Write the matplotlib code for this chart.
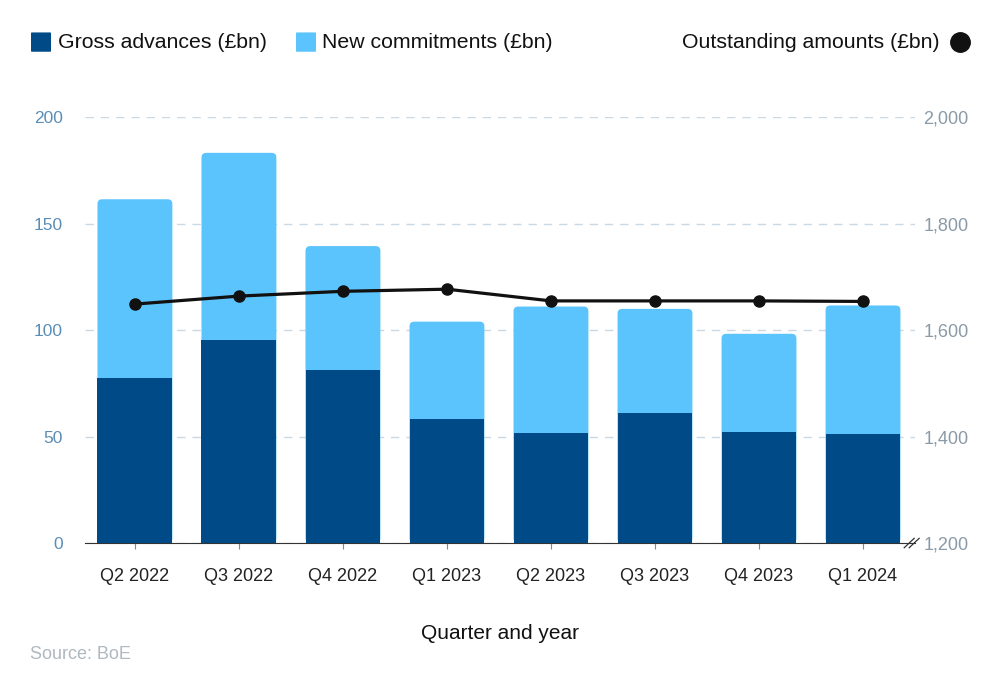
import numpy as np
import matplotlib.pyplot as plt
from matplotlib.patches import FancyBboxPatch

plt.rcParams['font.family'] = ['Liberation Sans', 'DejaVu Sans']

## Data
quarters = ["Q2 2022", "Q3 2022", "Q4 2022", "Q1 2023", "Q2 2023", "Q3 2023", "Q4 2023", "Q1 2024"]
gross_advances = [77.5, 95.5, 81.5, 58.5, 51.8, 61.0, 52.3, 51.3]
new_commitments = [84.0, 87.8, 58.0, 45.5, 59.3, 49.0, 46.0, 60.3]
outstanding = [1649, 1664, 1673, 1677, 1655, 1655, 1655, 1654]

dark = "#014a88"
light = "#5bc4fd"
width = 0.72

fig = plt.figure(figsize=(10, 6.9), dpi=100)
ax = fig.add_axes([0.085, 0.213, 0.83, 0.617])
ax2 = ax.twinx()

x = np.arange(len(quarters))
ax.set_xlim(-0.48, 7.5)
ax.set_ylim(0, 200)
ax2.set_ylim(1200, 2000)

## radius correction so corners look round in pixels
bbox = ax.get_position()
px_w = bbox.width * 1000 / (7.98)
px_h = bbox.height * 690 / 200.0
aspect = px_w / px_h

tops = np.array(gross_advances) + np.array(new_commitments)
r = 0.045
for i in range(len(x)):
    p = FancyBboxPatch((x[i] - width / 2 + r, r * aspect), width - 2 * r, tops[i] - 2 * r * aspect,
                       boxstyle="round,pad=%g" % r, mutation_aspect=aspect,
                       fc=light, ec="none", zorder=2)
    ax.add_patch(p)
ax.bar(x, gross_advances, width=width, color=dark, zorder=3)

ax.set_yticks([0, 50, 100, 150, 200])
ax.grid(axis='y', color="#c9d9e6", linestyle=(0, (6, 5)), linewidth=1, zorder=0)
ax.tick_params(axis='y', length=0, labelsize=12.5, colors="#5b8db5", pad=16)
ax.set_xticks(x)
ax.set_xticklabels(quarters)
ax.tick_params(axis='x', length=4, color="#888888", labelsize=13, pad=14, labelcolor="#222222")
for s in ['top', 'right', 'left']:
    ax.spines[s].set_visible(False)
    ax2.spines[s].set_visible(False)
ax.spines['bottom'].set_color("#333333")
ax2.spines['bottom'].set_visible(False)

ax2.plot(x, outstanding, color="#111111", linewidth=2.3, marker='o', markersize=8, zorder=5)
ax2.set_yticks([1200, 1400, 1600, 1800, 2000])
ax2.set_yticklabels(["1,200", "1,400", "1,600", "1,800", "2,000"])
ax2.tick_params(axis='y', length=0, labelsize=13, colors="#8a9aa8", pad=6)

## axis break mark
for dx in [-0.003, 0.003]:
    ax.plot([0.996 + dx - 0.006, 0.996 + dx + 0.006], [-0.011, 0.011], transform=ax.transAxes,
            color="#333333", linewidth=0.9, clip_on=False)

ax.set_xlabel("Quarter and year", fontsize=15, color="#111111", labelpad=28)

## legend
fig.patches.append(FancyBboxPatch((0.032, 0.926), 0.018, 0.026, boxstyle="round,pad=0.001",
                                  transform=fig.transFigure, fc=dark, ec="none"))
fig.text(0.058, 0.939, "Gross advances (£bn)", fontsize=15.3, va='center', color="#111111")
fig.patches.append(FancyBboxPatch((0.297, 0.926), 0.018, 0.026, boxstyle="round,pad=0.001",
                                  transform=fig.transFigure, fc=light, ec="none"))
fig.text(0.322, 0.939, "New commitments (£bn)", fontsize=15.3, va='center', color="#111111")
fig.text(0.940, 0.939, "Outstanding amounts (£bn)", fontsize=15.3, va='center', ha='right', color="#111111")
fig.add_artist(plt.Line2D([0.960], [0.939], marker='o', markersize=14, color="#111111", transform=fig.transFigure))

fig.text(0.030, 0.051, "Source: BoE", fontsize=13, color="#b0b8c0", va='center')

fig.savefig("out.png", dpi=100)
